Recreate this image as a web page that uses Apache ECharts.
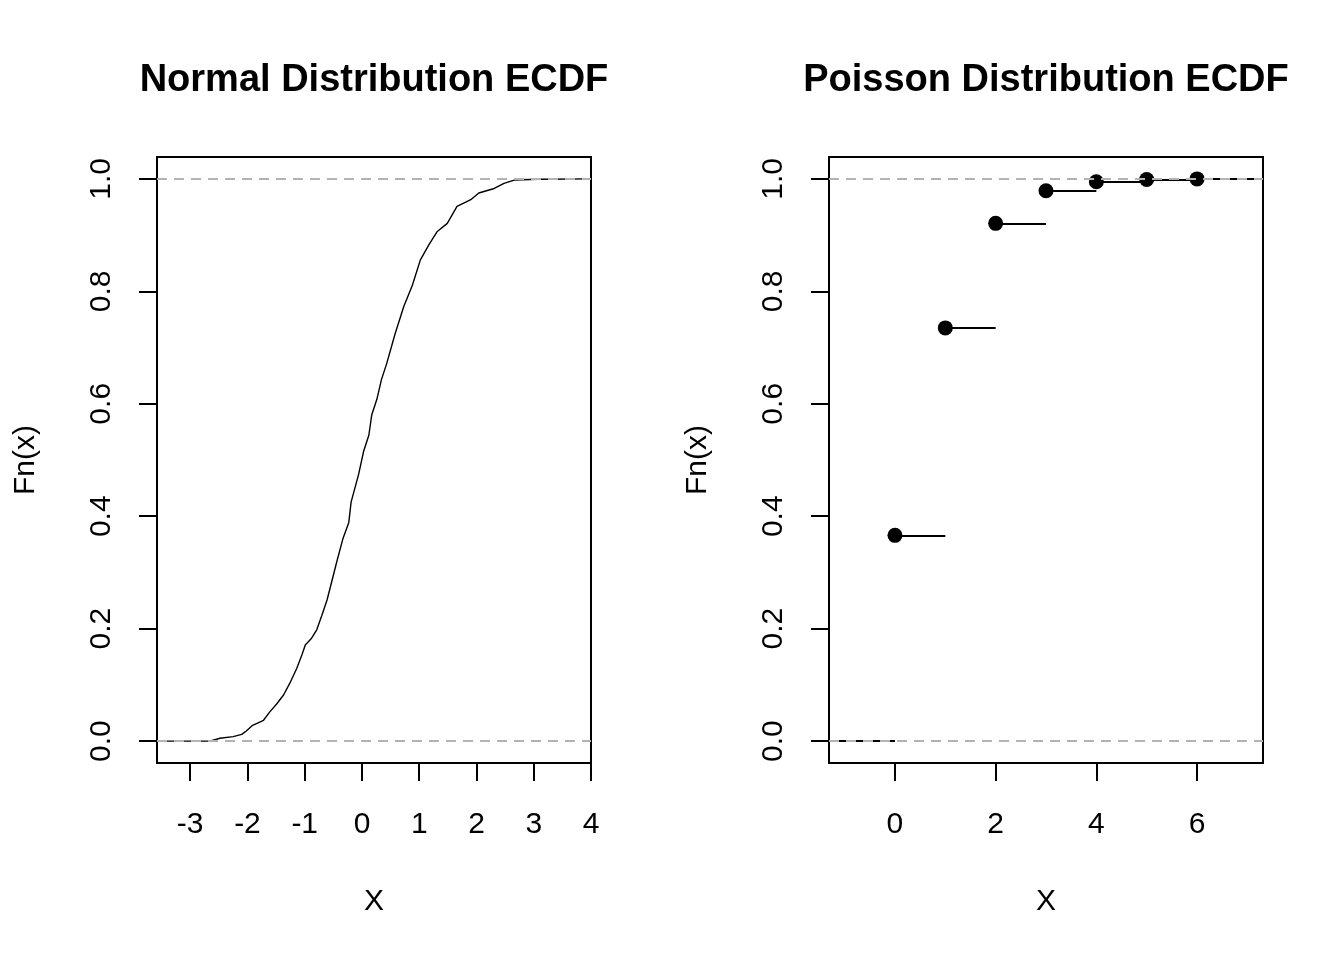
<!DOCTYPE html>
<html>
<head>
<meta charset="utf-8">
<title>ECDF</title>
<script src="https://cdn.jsdelivr.net/npm/echarts@6/dist/echarts.min.js"></script>
<style>
  html, body { margin: 0; padding: 0; background: #fff; }
  #chart { width: 1344px; height: 960px; }
</style>
</head>
<body>
<div id="chart"></div>
<script>
// normal sample ecdf
const normalX = [-3.58, -2.66, -2.48, -2.25, -2.10, -2.02, -1.91, -1.72, -1.61, -1.49, -1.37, -1.26, -1.14, -1.05, -0.99, -0.88, -0.79, -0.70, -0.61, -0.53, -0.44, -0.33, -0.23, -0.19, -0.06, 0.03, 0.12, 0.17, 0.26, 0.34, 0.43, 0.58, 0.73, 0.88, 1.02, 1.17, 1.31, 1.49, 1.66, 1.90, 2.04, 2.31, 2.48, 2.66, 3.07, 4.0];
const normalF = [0, 0, 0.005, 0.008, 0.012, 0.018, 0.028, 0.037, 0.052, 0.066, 0.082, 0.103, 0.129, 0.153, 0.171, 0.183, 0.198, 0.224, 0.251, 0.283, 0.319, 0.361, 0.389, 0.425, 0.474, 0.516, 0.544, 0.580, 0.608, 0.643, 0.671, 0.725, 0.773, 0.811, 0.856, 0.883, 0.906, 0.921, 0.951, 0.963, 0.975, 0.983, 0.992, 0.998, 0.9995, 1];

// poisson ecdf jumps
const poisX = [0, 1, 2, 3, 4, 5, 6];
const poisF = [0.366, 0.735, 0.921, 0.979, 0.995, 0.999, 1.0];

const yTicks = [0, 0.2, 0.4, 0.6, 0.8, 1.0];
const normalTicks = [-3, -2, -1, 0, 1, 2, 3, 4];
const poisTicks = [0, 2, 4, 6];

const titles = ['Normal Distribution ECDF', 'Poisson Distribution ECDF'];

const FONT = 'Liberation Sans, Arial, sans-serif';
const xRange = [[-3.58, 4.0], [-1.31, 7.31]];

const chart = echarts.init(document.getElementById('chart'));

const makeX = (i, ticks) => ({
    type: 'value',
    gridIndex: i,
    min: xRange[i][0],
    max: xRange[i][1],
    name: 'X',
    nameLocation: 'middle',
    nameGap: 124,
    nameTextStyle: { fontFamily: FONT, fontSize: 30, color: '#000' },
    axisLine: { show: false, onZero: false },
    axisTick: { show: true, length: 18, customValues: ticks, lineStyle: { color: '#000', width: 2 } },
    axisLabel: { customValues: ticks, margin: 47, fontFamily: FONT, fontSize: 30, color: '#000' },
    splitLine: { show: false }
});

const makeY = (i) => ({
    type: 'value',
    gridIndex: i,
    min: -0.039,
    max: 1.039,
    name: 'Fn(x)',
    nameLocation: 'middle',
    nameGap: 116,
    nameRotate: 90,
    nameTextStyle: { fontFamily: FONT, fontSize: 30, color: '#000' },
    axisLine: { show: false, onZero: false },
    axisTick: { show: true, length: 18, customValues: yTicks, lineStyle: { color: '#000', width: 2 } },
    axisLabel: {
        customValues: yTicks, rotate: 90, margin: 40,
        fontFamily: FONT, fontSize: 30, color: '#000',
        formatter: (v) => v.toFixed(1)
    },
    splitLine: { show: false }
});

// dashed gray lines at 0 and 1
const refLines = {
    silent: true,
    symbol: 'none',
    label: { show: false },
    lineStyle: { color: '#b3b3b3', type: [10, 7], width: 2 },
    data: [{ yAxis: 0 }, { yAxis: 1 }],
    z: 10
};

// horizontal steps for the poisson plot
const poisSegs = [{ coords: [[xRange[1][0], 0], [poisX[0], 0]] }];
for (let i = 0; i < poisX.length; i++) {
    const next = i < poisX.length - 1 ? poisX[i + 1] : xRange[1][1];
    poisSegs.push({ coords: [[poisX[i], poisF[i]], [next, poisF[i]]] });
}

const option = {
    animation: false,
    backgroundColor: '#fff',
    grid: [
        { left: 157, right: 753, top: 157, bottom: 197, show: true, borderColor: '#000', borderWidth: 2, backgroundColor: 'transparent' },
        { left: 829, right: 81, top: 157, bottom: 197, show: true, borderColor: '#000', borderWidth: 2, backgroundColor: 'transparent' }
    ],
    xAxis: [makeX(0, normalTicks), makeX(1, poisTicks)],
    yAxis: [makeY(0), makeY(1)],
    graphic: titles.map((t, i) => ({
        type: 'text',
        x: i === 0 ? 374 : 1046,
        y: 81,
        style: {
            text: t,
            textAlign: 'center',
            textVerticalAlign: 'middle',
            fontFamily: FONT,
            fontWeight: 'bold',
            fontSize: 38,
            fill: '#000'
        }
    })),
    series: [
        {
            type: 'line',
            xAxisIndex: 0,
            yAxisIndex: 0,
            data: normalX.map((x, i) => [x, normalF[i]]),
            showSymbol: false,
            clip: true,
            lineStyle: { color: '#000', width: 1.4 },
            markLine: refLines
        },
        {
            type: 'lines',
            coordinateSystem: 'cartesian2d',
            xAxisIndex: 1,
            yAxisIndex: 1,
            data: poisSegs,
            lineStyle: { color: '#000', width: 2, opacity: 1 },
            z: 2
        },
        {
            type: 'scatter',
            xAxisIndex: 1,
            yAxisIndex: 1,
            data: poisX.map((x, i) => [x, poisF[i]]),
            symbol: 'circle',
            symbolSize: 15,
            itemStyle: { color: '#000', opacity: 1 },
            z: 5,
            markLine: refLines
        }
    ]
};

chart.setOption(option);
</script>
</body>
</html>
